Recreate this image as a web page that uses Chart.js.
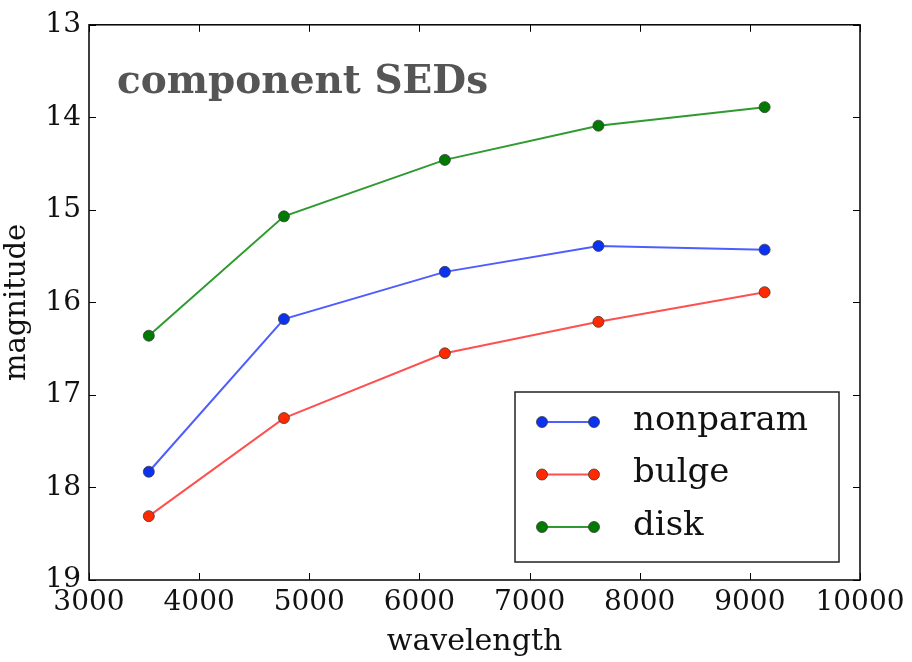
<!DOCTYPE html>
<html>
<head>
<meta charset="utf-8">
<script src="https://cdn.jsdelivr.net/npm/chart.js@4/dist/chart.umd.min.js"></script>
<style>
  html, body { margin: 0; padding: 0; background: #fff; }
  #wrap { width: 912px; height: 662px; }
</style>
</head>
<body>
<div id="wrap"><canvas id="sedChart" width="912" height="662"></canvas></div>
<script>
// SDSS band wavelengths (u g r i z)
const wavelengths = [3543, 4770, 6231, 7625, 9134];
const nonparamMag = [17.83, 16.18, 15.67, 15.39, 15.43];
const bulgeMag = [18.31, 17.25, 16.55, 16.21, 15.89];
const diskMag = [16.36, 15.07, 14.46, 14.09, 13.89];
const xTicks = [3000, 4000, 5000, 6000, 7000, 8000, 9000, 10000];
const yTicks = [13, 14, 15, 16, 17, 18, 19];

const serif = "'DejaVu Serif', serif";

function series(label, mags, line, fill) {
    return {
        label: label,
        data: wavelengths.map((w, i) => ({ x: w, y: mags[i] })),
        borderColor: line,
        borderWidth: 2,
        pointBackgroundColor: fill,
        pointBorderColor: "rgba(60,60,60,0.8)",
        pointBorderWidth: 1,
        pointRadius: 5.5,
        tension: 0,
    };
}

// inward ticks on all four sides plus the top/right frame
const frameTicks = {
    id: "frameTicks",
    afterDraw(chart) {
        const { ctx, chartArea: a, scales } = chart;
        ctx.save();
        ctx.strokeStyle = "#000";
        ctx.lineWidth = 1.5;
        ctx.strokeRect(a.left, a.top, a.right - a.left, a.bottom - a.top);
        ctx.lineWidth = 1;
        const len = 7;
        ctx.beginPath();
        xTicks.forEach((t) => {
            const px = Math.round(scales.x.getPixelForValue(t)) + 0.5;
            ctx.moveTo(px, a.bottom); ctx.lineTo(px, a.bottom - len);
            ctx.moveTo(px, a.top); ctx.lineTo(px, a.top + len);
        });
        yTicks.forEach((t) => {
            const py = Math.round(scales.y.getPixelForValue(t)) + 0.5;
            ctx.moveTo(a.left, py); ctx.lineTo(a.left + len, py);
            ctx.moveTo(a.right, py); ctx.lineTo(a.right - len, py);
        });
        ctx.stroke();
        ctx.restore();
    },
};

// title inside the axes and a boxed legend in the lower right
const insideText = {
    id: "insideText",
    afterDraw(chart) {
        const { ctx, chartArea: a } = chart;
        ctx.save();
        ctx.fillStyle = "#555555";
        ctx.font = "bold 39px " + serif;
        ctx.textBaseline = "alphabetic";
        ctx.fillText("component SEDs", a.left + 28, a.top + 68);

        const bx = 515, by = 392, bw = 324, bh = 170;
        ctx.fillStyle = "#fff";
        ctx.fillRect(bx, by, bw, bh);
        ctx.strokeStyle = "#222";
        ctx.lineWidth = 1.5;
        ctx.strokeRect(bx, by, bw, bh);
        chart.data.datasets.forEach((ds, i) => {
            const y = by + 30 + i * 52.5;
            const x0 = bx + 27, x1 = bx + 79;
            ctx.strokeStyle = ds.borderColor;
            ctx.lineWidth = 2;
            ctx.beginPath();
            ctx.moveTo(x0, y); ctx.lineTo(x1, y);
            ctx.stroke();
            [x0, x1].forEach((x) => {
                ctx.beginPath();
                ctx.arc(x, y, 5.5, 0, Math.PI * 2);
                ctx.fillStyle = ds.pointBackgroundColor;
                ctx.fill();
                ctx.strokeStyle = "rgba(60,60,60,0.8)";
                ctx.lineWidth = 1;
                ctx.stroke();
            });
            ctx.fillStyle = "#111";
            ctx.font = "34px " + serif;
            ctx.textBaseline = "middle";
            ctx.fillText(ds.label, bx + 118, y - 1);
        });
        ctx.restore();
    },
};

new Chart(document.getElementById("sedChart"), {
    type: "line",
    data: {
        datasets: [
            series("nonparam", nonparamMag, "#4d5dff", "#0a32f0"),
            series("bulge", bulgeMag, "#ff5050", "#ff2a00"),
            series("disk", diskMag, "#2f9a2f", "#007a00"),
        ],
    },
    options: {
        responsive: false,
        animation: false,
        layout: { padding: { top: 24, right: 52, left: 0, bottom: 0 } },
        plugins: { legend: { display: false }, tooltip: { enabled: false } },
        scales: {
            x: {
                type: "linear",
                min: 3000,
                max: 10000,
                afterBuildTicks: (s) => { s.ticks = xTicks.map((v) => ({ value: v })); },
                afterFit: (s) => { s.height = 82; },
                grid: { drawOnChartArea: false, drawTicks: false },
                border: { display: false },
                ticks: {
                    color: "#111",
                    padding: 6,
                    maxRotation: 0,
                    font: { family: serif, size: 28 },
                    callback: (v) => String(v),
                },
                title: {
                    display: true,
                    text: "wavelength",
                    color: "#111",
                    font: { family: serif, size: 30 },
                    padding: { top: 0, bottom: 2 },
                },
            },
            y: {
                type: "linear",
                reverse: true,
                min: 13,
                max: 19,
                afterBuildTicks: (s) => { s.ticks = yTicks.map((v) => ({ value: v })); },
                afterFit: (s) => { s.width = 89; },
                grid: { drawOnChartArea: false, drawTicks: false },
                border: { display: false },
                ticks: { color: "#111", padding: 8, font: { family: serif, size: 28 } },
                title: {
                    display: true,
                    text: "magnitude",
                    color: "#111",
                    font: { family: serif, size: 29 },
                    padding: { top: 0, bottom: 10 },
                },
            },
        },
    },
    plugins: [frameTicks, insideText],
});
</script>
</body>
</html>
